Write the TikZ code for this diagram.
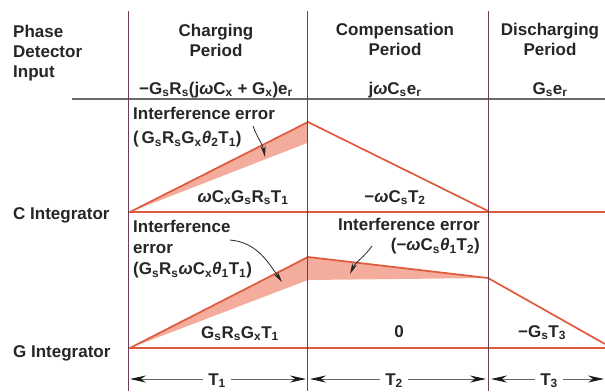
\documentclass[tikz,border=0pt]{standalone}
\usepackage{fontspec}
\setmainfont{Liberation Sans}
\usetikzlibrary{positioning,arrows.meta}
\definecolor{TraceRed}{HTML}{DE5A3C}
\definecolor{ShadeRed}{HTML}{F4AC9C}
\definecolor{DivLine}{HTML}{6E3B5C}
\definecolor{RuleGray}{HTML}{6A6A6A}
\newcommand{\lo}[1]{\textsubscript{#1}}
\newcommand{\om}{\textit{ω}}
\newcommand{\tht}{\textit{θ}}
\tikzset{
  lbl/.style={font=\bfseries\fontsize{17}{20}\selectfont,inner sep=0pt,text=black!85},
  headtxt/.style={lbl,align=center,anchor=north},
  formula/.style={lbl,anchor=base},
  divider/.style={draw=DivLine,line width=1pt},
  rowrule/.style={draw=RuleGray,line width=1.2pt},
  trace/.style={draw=TraceRed,line width=1.7pt,line join=round},
  errwedge/.style={fill=ShadeRed},
  callout/.style={-{Stealth[length=11pt,width=5pt]},draw=black!85,line width=0.8pt},
  span/.style={-{Stealth[length=16pt,width=7pt,color=black!90]},draw=black!60,line width=0.8pt}
}
\begin{document}
\begin{tikzpicture}[x=1pt,y=-1pt]
  \useasboundingbox (0,0) rectangle (605,391);
  % trace corners
  \coordinate (c0) at (130,212);
  \coordinate (cpk) at (308,122);
  \coordinate (cw) at (307,143);
  \coordinate (cend) at (488,211);
  \coordinate (g0) at (130,348);
  \coordinate (gpk) at (308,257);
  \coordinate (gw) at (308,280);
  \coordinate (gmid) at (488,278);
  \coordinate (gend) at (605,344);
  % interference error wedges
  \fill[errwedge] (c0) -- (cpk) -- (cw) -- cycle;
  \fill[errwedge] (g0) -- (gpk) -- (gmid) -- (gw) -- cycle;
  % baselines and traces
  \draw[trace] (128,212) -- (605,212);
  \draw[trace] (128,348) -- (605,348);
  \draw[trace] (c0) -- (cpk) -- (cend);
  \draw[trace] (g0) -- (gpk) -- (gmid) -- (gend);
  % rules
  \draw[rowrule] (72,99) -- (605,99);
  \foreach \x in {128,307,488}
    \draw[divider] (\x,11) -- (\x,391);
  % header
  \node[lbl,align=left,anchor=north west] (pdi) at (13,25) {Phase\\Detector\\Input};
  \node[headtxt] (chg) at (216,24) {Charging\\Period};
  \node[headtxt] (cmp) at (395,23) {Compensation\\Period};
  \node[headtxt] (dis) at (550,23) {Discharging\\Period};
  \node[formula] (chgin) at (216,94) {−G\lo{s}R\lo{s}(j\om C\lo{x} + G\lo{x})e\lo{r}};
  \node[formula] (cmpin) at (395,94) {j\om C\lo{s}e\lo{r}};
  \node[formula] (disin) at (550,94) {G\lo{s}e\lo{r}};
  % row labels
  \node[lbl,anchor=base west] (cint) at (13,219) {C Integrator};
  \node[lbl,anchor=base west] (gint) at (13,357) {G Integrator};
  % slopes
  \node[formula] (cslope1) at (243,202) {\om C\lo{x}G\lo{s}R\lo{s}T\lo{1}};
  \node[formula] (cslope2) at (395,202) {−\om C\lo{s}T\lo{2}};
  \node[formula] (gslope1) at (240,338) {G\lo{s}R\lo{s}G\lo{x}T\lo{1}};
  \node[formula] (gslope2) at (399,337) {0};
  \node[formula] (gslope3) at (542,337) {−G\lo{s}T\lo{3}};
  % interference errors
  \node[lbl,align=left,anchor=north west] (cerr) at (133,107)
    {Interference error\\[4pt](\,G\lo{s}R\lo{s}G\lo{x}\tht\lo{2}T\lo{1})};
  \node[lbl,align=left,anchor=north west] (gerr) at (133,220)
    {Interference\\[1pt]error\\[1pt](G\lo{s}R\lo{s}\om C\lo{x}\tht\lo{1}T\lo{1})};
  \node[lbl,align=right,anchor=north east] (cmperr) at (480,218)
    {Interference error\\(−\om C\lo{s}\tht\lo{1}T\lo{2})};
  \coordinate (cerrtail) at (253,126);
  \coordinate (cerrtip) at (265,157);
  \coordinate (gerrtail) at (230,240);
  \coordinate (gerrtip) at (282,282);
  \coordinate (cmperrtail) at (372,246);
  \coordinate (cmperrtip) at (350,274);
  \draw[callout] (cerrtail) to[out=-70,in=100] (cerrtip);
  \draw[callout] (gerrtail) to[out=-5,in=125] (gerrtip);
  \draw[callout] (cmperrtail) to[out=-125,in=65] (cmperrtip);
  % period spans
  \foreach \nm/\lx/\rx/\cx/\k in {t1/130/306/217/1,t2/310/486/394/2,t3/491/604/549/3} {
    \node[lbl,anchor=base,inner xsep=5pt] (\nm) at (\cx,385) {T\lo{\k}};
    \coordinate (\nm l) at (\lx,379);
    \coordinate (\nm r) at (\rx,379);
    \draw[span] (\nm.west |- \nm l) -- (\nm l);
    \draw[span] (\nm.east |- \nm r) -- (\nm r);
  }
\end{tikzpicture}
\end{document}
